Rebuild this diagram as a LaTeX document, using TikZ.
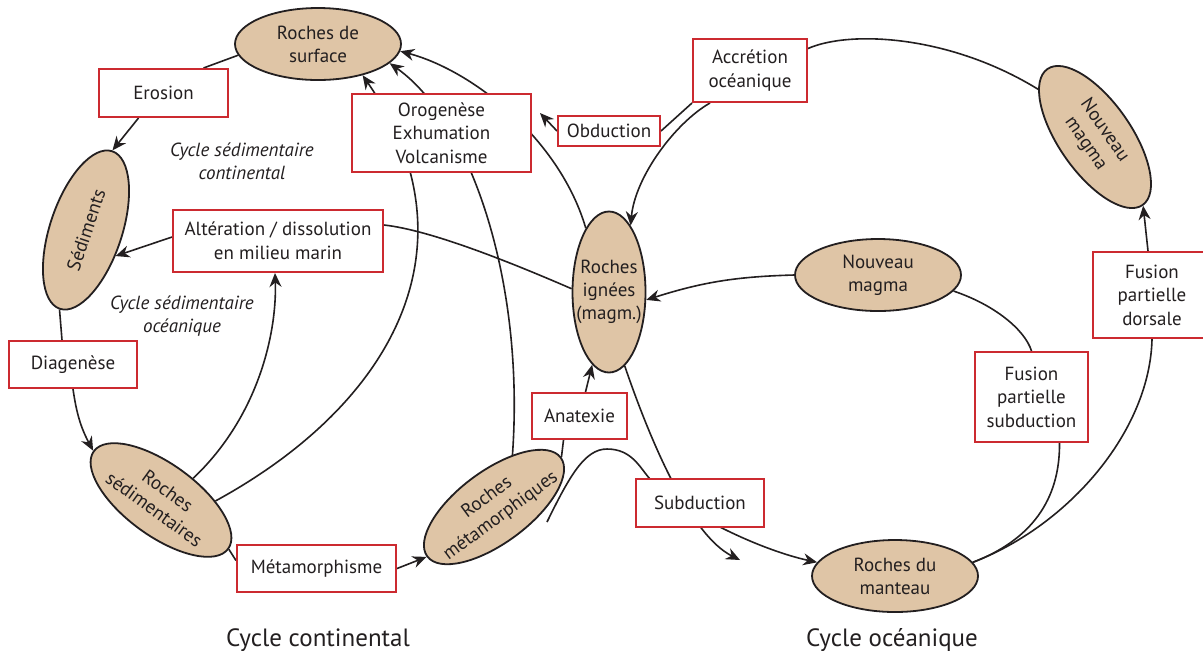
\documentclass[tikz,border=0pt]{standalone}
\usepackage{fontspec}
\setmainfont{PT Sans}
\usepackage{tikz}
\usetikzlibrary{arrows.meta,positioning,calc,backgrounds,shapes.geometric}
\definecolor{rockc}{HTML}{DFC5A6}
\definecolor{boxc}{HTML}{CC2A30}
\definecolor{txtc}{HTML}{231F20}
\tikzset{
  >={Stealth[length=7pt,width=6pt]},
  rock/.style={ellipse,draw=txtc,line width=0.9pt,fill=rockc,minimum width=83pt,minimum height=36pt,inner xsep=-8pt,inner ysep=-2pt,align=center,font=\fontsize{9.5}{11.5}\selectfont,text=txtc},
  proc/.style={draw=boxc,line width=1pt,fill=white,inner sep=0pt,align=center,font=\fontsize{9.5}{11.75}\selectfont,text=txtc},
  cyc/.style={font=\fontsize{9.5}{11.5}\selectfont\itshape,text=txtc,align=center},
  cyctitle/.style={font=\fontsize{12.5}{15}\selectfont,text=txtc,anchor=base},
  flow/.style={->,line width=0.8pt,draw=txtc},
  link/.style={line width=0.8pt,draw=txtc},
}
\newcommand{\procbox}[5]{\node[proc,minimum width=#3,minimum height=#4] (#1) at (#2) {#5};}

\begin{document}
\begin{tikzpicture}[x=0.5pt,y=-0.5pt]
  \useasboundingbox (0,0) rectangle (1203,650);
  \clip (0,0) rectangle (1203,650);
  % roches
  \node[rock] (surf) at (318,44) {Roches de\\surface};
  \node[rock,rotate=71.6] (sed) at (86,230) {Sédiments};
  \node[rock,rotate=-36] (rsed) at (161,500) {Roches\\sédimentaires};
  \node[rock,rotate=36.5] (rmet) at (494,507) {Roches\\métamorphiques};
  \node[rock,minimum width=36.5pt,minimum height=80.5pt] (ign) at (609,292) {Roches\\ignées\\(magm.)};
  \node[rock] (nm1) at (878,275) {Nouveau\\magma};
  \node[rock,rotate=-55] (nm2) at (1095,137) {Nouveau\\magma};
  \node[rock] (mant) at (895,576) {Roches du\\manteau};
  % processus
  \procbox{ero}{163.5,93}{64.5pt}{24pt}{Erosion}
  \procbox{alt}{278,241}{105pt}{31pt}{Altération / dissolution\\en milieu marin}
  \procbox{diag}{73,364.5}{64pt}{23.5pt}{Diagenèse}
  \procbox{oro}{441.5,133}{89.5pt}{39pt}{Orogenèse\\Exhumation\\Volcanisme}
  \procbox{obd}{609,131}{51pt}{15pt}{Obduction}
  \procbox{acc}{750,70.5}{57pt}{31.5pt}{Accrétion\\océanique}
  \procbox{dors}{1152,295}{59pt}{43pt}{Fusion\\partielle\\dorsale}
  \procbox{fsub}{1031.5,397}{56.5pt}{45pt}{Fusion\\partielle\\subduction}
  \procbox{met}{316.5,568.5}{79.5pt}{23.5pt}{Métamorphisme}
  \procbox{ana}{579.5,416}{47.5pt}{23pt}{Anatexie}
  \procbox{sub}{700,503}{64pt}{24pt}{Subduction}
  % textes
  \node[cyc] (cscont) at (242,161) {Cycle sédimentaire\\continental};
  \node[cyc] (csoce) at (182,316) {Cycle sédimentaire\\océanique};
  \node[cyctitle] (tcont) at (318,646) {Cycle continental};
  \node[cyctitle] (toce) at (892,646) {Cycle océanique};
  \coordinate (hump) at (547,522);
  \coordinate (subend) at (740,560);
  \begin{pgfonlayer}{background}
    \fill[white] (0,0) rectangle (1203,650);
    % cycle continental
    \draw[link] (surf.188) -- ($(ero.north)+(40,0)$);
    \draw[flow] ($(ero.south)+(-25,0)$) -- (sed.east);
    \draw[link] (sed.west) -- ($(diag.north)+(-11,0)$);
    \draw[flow] (diag.south) to[bend right=10] (rsed.west);
    \draw[link] (rsed.east) -- ($(met.west)+(0,-8)$);
    \draw[flow] (met.east) -- (rmet.west);
    \draw[link] (rmet.east) -- ($(ana.south)+(-16,0)$);
    \draw[flow] ($(ana.north)+(6,0)$) -- (ign.257);
    \draw[flow] (rsed.70) .. controls (260,415) and (277,330) .. ($(alt.south)+(-3,0)$);
    \draw[flow] ($(alt.west)+(0,-4)$) -- (sed.-113);
    \draw[link] ($(alt.east)+(0,-16)$) .. controls (430,230) and (510,262) .. (ign.175);
    \draw[flow] (rsed.35) .. controls (395,403) and (479,244) .. (surf.-35);
    \draw[flow] (rmet.34) .. controls (525,280) and (470,120) .. (surf.-15);
    \draw[flow] (ign.110) .. controls (560,140) and (474,71) .. (surf.-5);
    % cycle oceanique
    \draw[flow] ($(acc.south)+(-40,0)$) .. controls (675,123) and (635,177) .. (ign.72);
    \draw[link] (obd.east) -- (acc.south west);
    \draw[flow] (obd.west) -- ($(oro.east)+(8,-20)$);
    \draw[flow] (nm1.west) to[bend right=8] (ign.-12);
    \draw[link] (nm1.-12) .. controls (995,305) and (1025,330) .. (fsub.north);
    \draw[link] ($(fsub.south)+(28,0)$) .. controls (1060,500) and (1031,540) .. (mant.10);
    \draw[link] (mant.10) .. controls (1070,525) and (1150,430) .. (dors.south);
    \draw[flow] ($(dors.north)+(-4,0)$) -- (nm2.east);
    \draw[link] ($(acc.east)+(0,-22)$) .. controls (850,30) and (950,35) .. (nm2.195);
    \draw[flow] (ign.-78) .. controls (650,440) and (690,535) .. (subend);
    \draw[flow] (hump) .. controls (570,475) and (585,449) .. (607,449) .. controls (632,449) and (640,468) .. (650,479) .. controls (680,512) and (760,550) .. (mant.170);
  \end{pgfonlayer}
\end{tikzpicture}
\end{document}
